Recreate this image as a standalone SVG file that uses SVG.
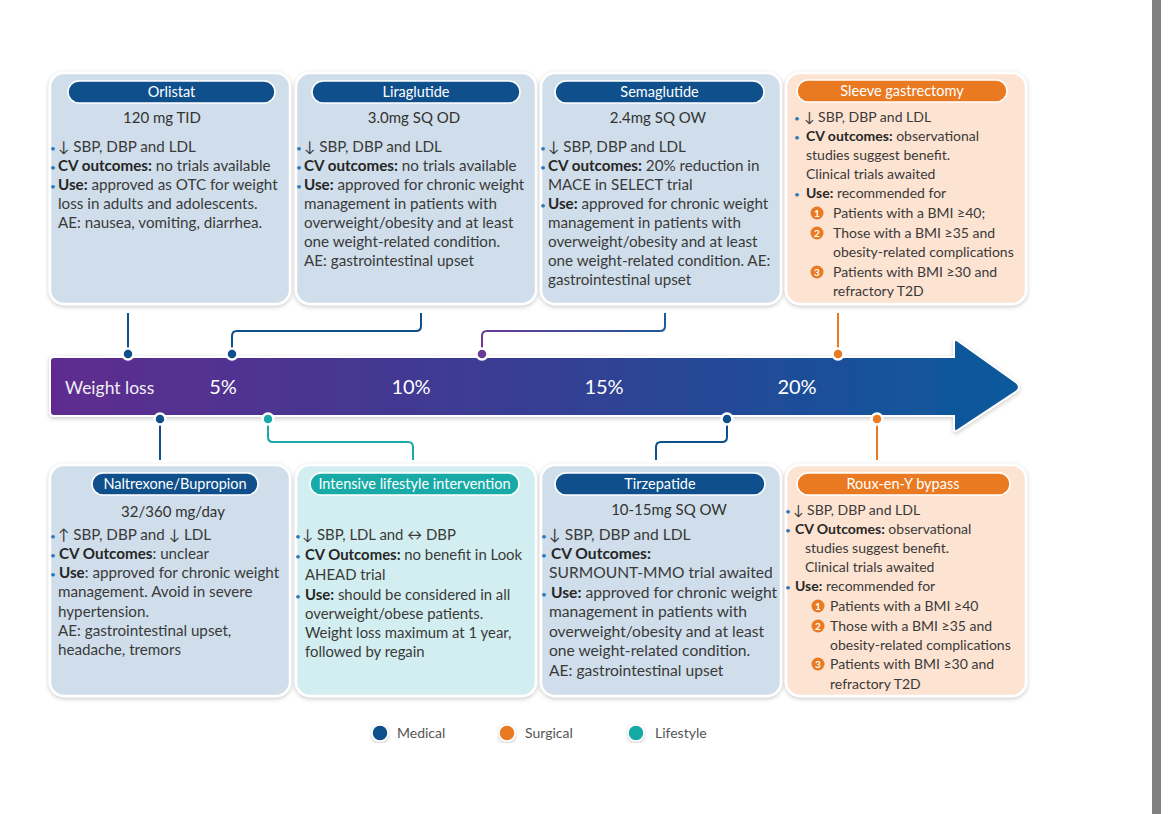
<svg xmlns="http://www.w3.org/2000/svg" width="1170" height="814" viewBox="0 0 1170 814">
<defs>
<linearGradient id="arrowGrad" x1="50" y1="0" x2="1020" y2="0" gradientUnits="userSpaceOnUse">
<stop offset="0" stop-color="#5f2c8f"/>
<stop offset="0.45" stop-color="#3b3c93"/>
<stop offset="1" stop-color="#0a5a9c"/>
</linearGradient>
<linearGradient id="semaGrad" x1="482" y1="0" x2="665" y2="0" gradientUnits="userSpaceOnUse">
<stop offset="0" stop-color="#6a3a96"/>
<stop offset="1" stop-color="#1d5a9a"/>
</linearGradient>
<filter id="sh" x="-10%" y="-10%" width="120%" height="120%">
<feDropShadow dx="0" dy="1.5" stdDeviation="2" flood-color="#000" flood-opacity="0.22"/>
</filter>
</defs>
<style>
text{font-family:"Lato","Open Sans","DejaVu Sans",sans-serif;}
.card{stroke:#ffffff;stroke-width:2.5;filter:url(#sh);}
.med{fill:#cfdeea;}
.surg{fill:#fde3d1;}
.life{fill:#d3eef0;}
.pill{stroke:#ffffff;stroke-width:1.5;}
.pmed{fill:#0e4f8c;}
.psurg{fill:#e97a22;}
.plife{fill:#17aaa6;}
.title{font-size:14.5px;fill:#ffffff;text-anchor:middle;}
.dose{font-size:15px;fill:#333333;text-anchor:middle;}
.t{font-size:15.2px;fill:#3a3a3a;}
.ts{font-size:14px;fill:#3a3a3a;}
.tl{font-size:14.9px;fill:#3a3a3a;}
.tz{font-size:15.6px;fill:#3a3a3a;}
.b{font-weight:bold;fill:#262626;}
.bul{font-size:10px;fill:#2a78bd;text-anchor:middle;}
.conn{fill:none;stroke-width:2;}
.cmed{stroke:#0e4f8c;}
.csurg{stroke:#e97a22;}
.clife{stroke:#17aaa6;}
.dot{stroke:#ffffff;stroke-width:2.5;}
.num{font-size:10px;fill:#ffffff;text-anchor:middle;font-weight:bold;}
.leg{font-size:14px;fill:#555555;}
.ax{font-size:20px;fill:#ffffff;text-anchor:middle;}
</style>
<rect x="0" y="0" width="1170" height="814" fill="#ffffff"/>
<rect x="1152" y="0" width="9" height="814" fill="#808080"/>

<g id="arrow">
<path d="M54,357 H954 V343 Q954,338 958,341 L1017,383 Q1021,387 1017,391 L958,430 Q954,433 954,428 V416 H54 Q50,416 50,412 V361 Q50,357 54,357 Z" fill="url(#arrowGrad)" stroke="#ffffff" stroke-width="2" filter="url(#sh)"/>
<text x="65" y="394" style="font-size:17.5px;fill:#f1eef7;">Weight loss</text>
<text x="223" y="394" class="ax">5%</text>
<text x="411" y="394" class="ax">10%</text>
<text x="604" y="394" class="ax">15%</text>
<text x="797" y="394" class="ax">20%</text>
</g>

<g id="connectors">
<path class="conn cmed" d="M128,313 V354"/>
<path class="conn cmed" d="M421,313 V326 Q421,331 416,331 H237 Q232,331 232,336 V354"/>
<path class="conn" stroke="url(#semaGrad)" d="M665,313 V326 Q665,331 660,331 H487 Q482,331 482,336 V354"/>
<path class="conn csurg" d="M838,313 V354"/>
<path class="conn cmed" d="M160,419 V460"/>
<path class="conn clife" d="M268,419 V437 Q268,442 273,442 H408 Q413,442 413,447 V460"/>
<path class="conn cmed" d="M727,419 V437 Q727,442 722,442 H661 Q656,442 656,447 V460"/>
<path class="conn csurg" d="M877,419 V460"/>
<circle class="dot" cx="128" cy="354" r="5.5" fill="#0e4f8c"/>
<circle class="dot" cx="232" cy="354" r="5.5" fill="#0e4f8c"/>
<circle class="dot" cx="482" cy="354" r="5.5" fill="#6a3a96"/>
<circle class="dot" cx="838" cy="354" r="5.5" fill="#e97a22"/>
<circle class="dot" cx="160" cy="419" r="5.5" fill="#0e4f8c"/>
<circle class="dot" cx="268" cy="419" r="5.5" fill="#17aaa6"/>
<circle class="dot" cx="727" cy="419" r="5.5" fill="#0e4f8c"/>
<circle class="dot" cx="877" cy="419" r="5.5" fill="#e97a22"/>
</g>

<g id="orlistat">
<rect class="card med" x="50" y="73" width="240" height="231" rx="14"/>
<rect class="pill pmed" x="68" y="81" width="207" height="22" rx="11"/>
<text class="title" x="171.5" y="97">Orlistat</text>
<text class="dose" x="162" y="123">120 mg TID</text>
<text class="bul" x="53" y="152">•</text><text class="t" x="58" y="152">↓ SBP, DBP and LDL</text>
<text class="bul" x="53" y="171">•</text><text class="t" x="58" y="171"><tspan class="b">CV outcomes:</tspan> no trials available</text>
<text class="bul" x="53" y="190">•</text><text class="t" x="58" y="190"><tspan class="b">Use:</tspan> approved as OTC for weight</text>
<text class="t" x="58" y="209">loss in adults and adolescents.</text>
<text class="t" x="58" y="228">AE: nausea, vomiting, diarrhea.</text>
</g>

<g id="liraglutide">
<rect class="card med" x="296" y="73" width="240" height="231" rx="14"/>
<rect class="pill pmed" x="312" y="81" width="208" height="22" rx="11"/>
<text class="title" x="416" y="97">Liraglutide</text>
<text class="dose" x="414" y="123">3.0mg SQ OD</text>
<text class="bul" x="299" y="152">•</text><text class="t" x="304" y="152">↓ SBP, DBP and LDL</text>
<text class="bul" x="299" y="171">•</text><text class="t" x="304" y="171"><tspan class="b">CV outcomes:</tspan> no trials available</text>
<text class="bul" x="299" y="190">•</text><text class="t" x="304" y="190"><tspan class="b">Use:</tspan> approved for chronic weight</text>
<text class="t" x="304" y="209">management in patients with</text>
<text class="t" x="304" y="228">overweight/obesity and at least</text>
<text class="t" x="304" y="247">one weight-related condition.</text>
<text class="t" x="304" y="266">AE: gastrointestinal upset</text>
</g>

<g id="semaglutide">
<rect class="card med" x="541" y="73" width="240" height="231" rx="14"/>
<rect class="pill pmed" x="555" y="81" width="209" height="22" rx="11"/>
<text class="title" x="659.5" y="97">Semaglutide</text>
<text class="dose" x="658" y="123">2.4mg SQ OW</text>
<text class="bul" x="543" y="152">•</text><text class="t" x="548" y="152">↓ SBP, DBP and LDL</text>
<text class="bul" x="543" y="171">•</text><text class="t" x="548" y="171"><tspan class="b">CV outcomes:</tspan> 20% reduction in</text>
<text class="t" x="548" y="190">MACE in SELECT trial</text>
<text class="bul" x="543" y="209">•</text><text class="t" x="548" y="209"><tspan class="b">Use:</tspan> approved for chronic weight</text>
<text class="t" x="548" y="228">management in patients with</text>
<text class="t" x="548" y="247">overweight/obesity and at least</text>
<text class="t" x="548" y="266">one weight-related condition. AE:</text>
<text class="t" x="548" y="285">gastrointestinal upset</text>
</g>

<g id="sleeve">
<rect class="card surg" x="786" y="73" width="240" height="231" rx="14"/>
<rect class="pill psurg" x="797" y="80" width="210" height="22" rx="11"/>
<text class="title" x="902" y="96">Sleeve gastrectomy</text>
<text class="bul" x="797" y="122">•</text><text class="ts" x="804" y="122">↓ SBP, DBP and LDL</text>
<text class="bul" x="797" y="141">•</text><text class="ts" x="806" y="141"><tspan class="b">CV outcomes:</tspan> observational</text>
<text class="ts" x="806" y="160">studies suggest benefit.</text>
<text class="ts" x="806" y="179">Clinical trials awaited</text>
<text class="bul" x="797" y="198">•</text><text class="ts" x="806" y="198"><tspan class="b">Use:</tspan> recommended for</text>
<circle cx="817" cy="213" r="6.5" fill="#e97a22"/><text class="num" x="817" y="216.5">1</text>
<text class="ts" x="833" y="218">Patients with a BMI ≥40;</text>
<circle cx="817" cy="233" r="6.5" fill="#e97a22"/><text class="num" x="817" y="236.5">2</text>
<text class="ts" x="833" y="238">Those with a BMI ≥35 and</text>
<text class="ts" x="833" y="257">obesity-related complications</text>
<circle cx="817" cy="272" r="6.5" fill="#e97a22"/><text class="num" x="817" y="275.5">3</text>
<text class="ts" x="833" y="277">Patients with BMI ≥30 and</text>
<text class="ts" x="833" y="296">refractory T2D</text>
</g>

<g id="naltrexone">
<rect class="card med" x="50" y="465" width="240" height="231" rx="14"/>
<rect class="pill pmed" x="92" y="473" width="166" height="22" rx="11"/>
<text class="title" x="175" y="489">Naltrexone/Bupropion</text>
<text class="dose" x="173" y="517">32/360 mg/day</text>
<text class="bul" x="53" y="540">•</text><text class="t" x="58" y="540">↑ SBP, DBP and ↓ LDL</text>
<text class="bul" x="53" y="559">•</text><text class="t" x="59" y="559"><tspan class="b">CV Outcomes</tspan>: unclear</text>
<text class="bul" x="53" y="578">•</text><text class="t" x="59" y="578"><tspan class="b">Use</tspan>: approved for chronic weight</text>
<text class="t" x="58" y="597">management. Avoid in severe</text>
<text class="t" x="58" y="617">hypertension.</text>
<text class="t" x="58" y="636">AE: gastrointestinal upset,</text>
<text class="t" x="58" y="655">headache, tremors</text>
</g>

<g id="lifestyle">
<rect class="card life" x="296" y="465" width="240" height="231" rx="14"/>
<rect class="pill plife" x="310" y="473" width="209" height="22" rx="11"/>
<text class="title" x="414.5" y="489">Intensive lifestyle intervention</text>
<text class="bul" x="298" y="540">•</text><text class="tl" x="302" y="540">↓ SBP, LDL and ↔ DBP</text>
<text class="bul" x="298" y="560">•</text><text class="tl" x="305" y="560"><tspan class="b">CV Outcomes:</tspan> no benefit in Look</text>
<text class="tl" x="305" y="580">AHEAD trial</text>
<text class="bul" x="298" y="600">•</text><text class="tl" x="305" y="600"><tspan class="b">Use:</tspan> should be considered in all</text>
<text class="tl" x="305" y="619">overweight/obese patients.</text>
<text class="tl" x="305" y="638">Weight loss maximum at 1 year,</text>
<text class="tl" x="305" y="657">followed by regain</text>
</g>

<g id="tirzepatide">
<rect class="card med" x="541" y="465" width="240" height="231" rx="14"/>
<rect class="pill pmed" x="555" y="473" width="210" height="22" rx="11"/>
<text class="title" x="660" y="489">Tirzepatide</text>
<text class="dose" x="669" y="515">10-15mg SQ OW</text>
<text class="bul" x="544" y="540">•</text><text class="tz" x="549" y="540">↓ SBP, DBP and LDL</text>
<text class="bul" x="544" y="559">•</text><text class="tz" x="551" y="559"><tspan class="b">CV Outcomes:</tspan></text>
<text class="tz" x="549" y="578">SURMOUNT-MMO trial awaited</text>
<text class="bul" x="544" y="598">•</text><text class="tz" x="551" y="598"><tspan class="b">Use:</tspan> approved for chronic weight</text>
<text class="tz" x="549" y="617">management in patients with</text>
<text class="tz" x="549" y="637">overweight/obesity and at least</text>
<text class="tz" x="549" y="656">one weight-related condition.</text>
<text class="tz" x="549" y="676">AE: gastrointestinal upset</text>
</g>

<g id="roux">
<rect class="card surg" x="786" y="465" width="240" height="231" rx="14"/>
<rect class="pill psurg" x="797" y="473" width="213" height="22" rx="11"/>
<text class="title" x="903" y="489">Roux-en-Y bypass</text>
<text class="bul" x="788" y="515">•</text><text class="ts" x="793" y="515">↓ SBP, DBP and LDL</text>
<text class="bul" x="788" y="534">•</text><text class="ts" x="795" y="534"><tspan class="b">CV Outcomes:</tspan> observational</text>
<text class="ts" x="805" y="553">studies suggest benefit.</text>
<text class="ts" x="805" y="572">Clinical trials awaited</text>
<text class="bul" x="788" y="591">•</text><text class="ts" x="795" y="591"><tspan class="b">Use:</tspan> recommended for</text>
<circle cx="818" cy="606" r="6.5" fill="#e97a22"/><text class="num" x="818" y="609.5">1</text>
<text class="ts" x="830" y="611">Patients with a BMI ≥40</text>
<circle cx="818" cy="626" r="6.5" fill="#e97a22"/><text class="num" x="818" y="629.5">2</text>
<text class="ts" x="830" y="631">Those with a BMI ≥35 and</text>
<text class="ts" x="830" y="650">obesity-related complications</text>
<circle cx="818" cy="664" r="6.5" fill="#e97a22"/><text class="num" x="818" y="667.5">3</text>
<text class="ts" x="830" y="669">Patients with BMI ≥30  and</text>
<text class="ts" x="830" y="689">refractory T2D</text>
</g>

<g id="legend">
<circle cx="380" cy="733" r="8" fill="#0e4f8c" stroke="#ffffff" stroke-width="1.5" filter="url(#sh)"/>
<text class="leg" x="397" y="738">Medical</text>
<circle cx="507" cy="733" r="8" fill="#e97a22" stroke="#ffffff" stroke-width="1.5" filter="url(#sh)"/>
<text class="leg" x="525" y="738">Surgical</text>
<circle cx="636" cy="733" r="8" fill="#17aaa6" stroke="#ffffff" stroke-width="1.5" filter="url(#sh)"/>
<text class="leg" x="655" y="738">Lifestyle</text>
</g>
</svg>
